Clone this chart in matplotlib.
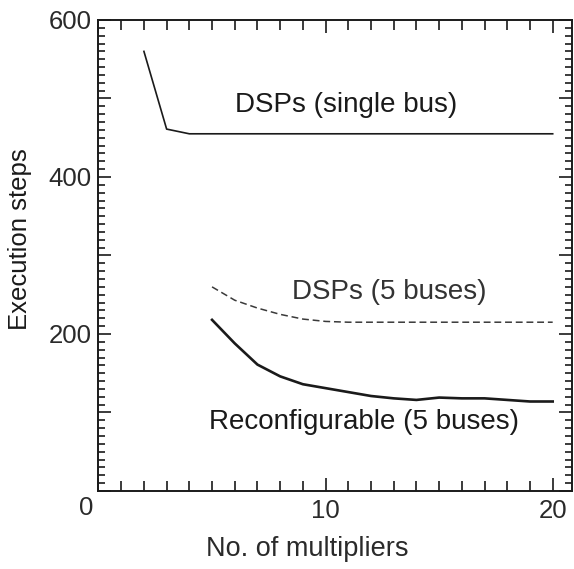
import matplotlib
matplotlib.use("Agg")
import matplotlib.pyplot as plt
from matplotlib.ticker import MultipleLocator, FuncFormatter

plt.rcParams['font.family'] = ['Liberation Sans', 'DejaVu Sans']

# number of multipliers -> execution steps
single_bus_x = [2, 3, 4, 5, 6, 7, 8, 9, 10, 11, 12, 13, 14, 15, 16, 17, 18, 19, 20]
single_bus_y = [560, 461, 455, 455, 455, 455, 455, 455, 455, 455, 455, 455, 455, 455, 455, 455, 455, 455, 455]

dsp5_x = [5, 6, 7, 8, 9, 10, 11, 12, 13, 14, 15, 16, 17, 18, 19, 20]
dsp5_y = [260, 243, 233, 225, 219, 216, 215, 215, 215, 215, 215, 215, 215, 215, 215, 215]

reconf_x = [5, 6, 7, 8, 9, 10, 11, 12, 13, 14, 15, 16, 17, 18, 19, 20]
reconf_y = [218, 188, 161, 146, 136, 131, 126, 121, 118, 116, 119, 118, 118, 116, 114, 114]

series_labels = ["DSPs (single bus)", "DSPs (5 buses)", "Reconfigurable (5 buses)"]
x_title = "No. of multipliers"
y_title = "Execution steps"

fig = plt.figure(figsize=(5.74, 5.69), dpi=100)
ax = fig.add_axes([0.1716, 0.1371, 0.8249, 0.8278])

ink = '#1a1a1a'
ax.plot(single_bus_x, single_bus_y, color=ink, lw=1.2)
ax.plot(dsp5_x, dsp5_y, color='#3a3a3a', lw=1.1, dashes=(4.5, 2.5))
ax.plot(reconf_x, reconf_y, color=ink, lw=1.9)

ax.text(10.9, 492, series_labels[0], fontsize=20, color=ink, ha='center', va='center')
ax.text(12.8, 254, series_labels[1], fontsize=20, color='#333333', ha='center', va='center')
ax.text(11.7, 88, series_labels[2], fontsize=20, color=ink, ha='center', va='center')

ax.set_xlim(0, 20.85)
ax.set_ylim(0, 600)

ax.xaxis.set_major_locator(MultipleLocator(10))
ax.xaxis.set_minor_locator(MultipleLocator(1))
ax.xaxis.set_major_formatter(FuncFormatter(lambda v, p: f"{int(v)}" if v > 0 else ""))
ax.yaxis.set_major_locator(MultipleLocator(100))
ax.yaxis.set_minor_locator(MultipleLocator(10))
ax.yaxis.set_major_formatter(FuncFormatter(
    lambda v, p: f"{int(v)}" if v > 0 and int(v) % 200 == 0 else ""))

for side in ax.spines.values():
    side.set_linewidth(1.4)
    side.set_color(ink)

ax.tick_params(which='both', direction='in', top=True, right=True,
               colors=ink, labelsize=18.5, width=1.2)
ax.tick_params(axis='x', which='major', length=9.5, pad=6)
ax.tick_params(axis='x', which='minor', length=7)
ax.tick_params(axis='y', which='major', length=9.5, pad=5)
ax.tick_params(axis='y', which='minor', length=5)
for lab in ax.get_xticklabels() + ax.get_yticklabels():
    lab.set_color('#2a2a2a')

# the shared "0" sits just left of the corner
ax.text(-0.025, -0.036, "0", transform=ax.transAxes, fontsize=18.5,
        color='#2a2a2a', ha='center', va='center')

ax.set_xlabel(x_title, fontsize=19.5, color='#2a2a2a', va='top')
ax.xaxis.set_label_coords(0.44, -0.095)
ax.set_ylabel(y_title, fontsize=18.5, color=ink)
ax.yaxis.set_label_coords(-0.14, 0.535)

fig.savefig("out.png", dpi=100)
